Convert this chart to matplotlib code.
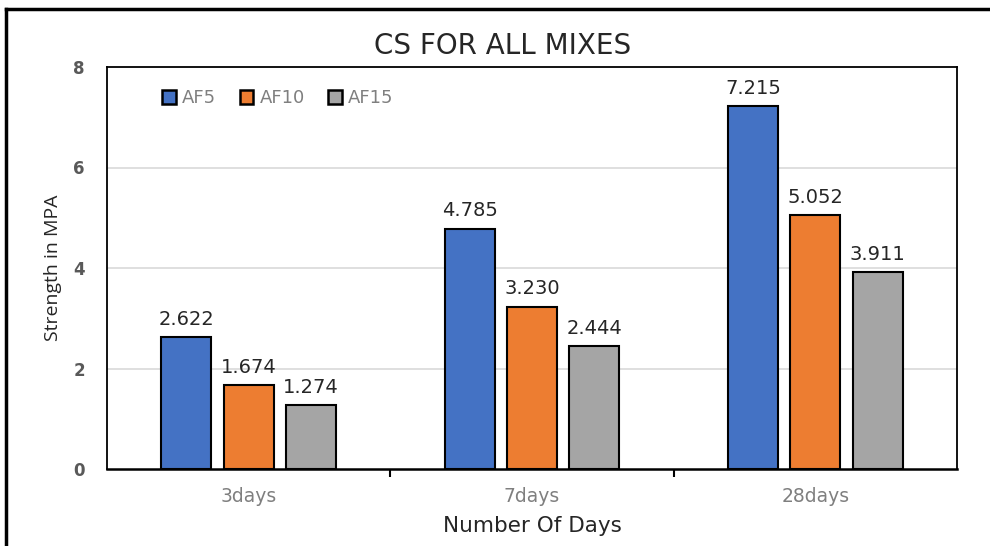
import matplotlib
matplotlib.use("Agg")
import matplotlib.pyplot as plt
import numpy as np
from matplotlib.lines import Line2D

categories = ["3days", "7days", "28days"]
series_names = ["AF5", "AF10", "AF15"]
af5 = [2.622, 4.785, 7.215]
af10 = [1.674, 3.230, 5.052]
af15 = [1.274, 2.444, 3.911]
yticks = [0, 2, 4, 6, 8]

colors = ["#4472C4", "#ED7D31", "#A5A5A5"]

fig = plt.figure(figsize=(9.9, 5.46), dpi=100)
ax = fig.add_axes([107/990, 1-469/546, 850/990, 402/546])

x = np.arange(len(categories))
width = 0.176
step = 0.22
for i, (vals, name) in enumerate(zip([af5, af10, af15], series_names)):
    pos = x + (i-1)*step
    ax.bar(pos, vals, width, color=colors[i], edgecolor="black", linewidth=1.5,
           label=name, zorder=3)
    for p, v in zip(pos, vals):
        ax.annotate(f"{v:.3f}", (p, v), xytext=(0, 6), textcoords="offset points",
                    ha="center", va="bottom", fontsize=14, color="#262626",
                    family="DejaVu Sans")

ax.set_xlim(-0.5, 2.5)
ax.set_ylim(0, 8)
ax.set_yticks(yticks)
ax.set_yticklabels([str(t) for t in yticks], fontsize=12, fontweight="bold", color="#595959",
                   family="DejaVu Sans")
ax.set_xticks(x)
ax.set_xticklabels(categories, fontsize=13.5, color="#7f7f7f", family="DejaVu Sans")
ax.tick_params(axis="x", length=0, pad=13)
ax.tick_params(axis="y", length=0, pad=16)
ax.set_xticks([0.5, 1.5], minor=True)
ax.tick_params(axis="x", which="minor", length=6, width=1.5, direction="out", color="black")
for yv in yticks[1:-1]:
    ax.axhline(yv, color="#D9D9D9", linewidth=1.2, zorder=1)
for s in ax.spines.values():
    s.set_color("black")
    s.set_linewidth(1.3)
ax.spines["bottom"].set_linewidth(1.8)

ax.set_xlabel("Number Of Days", fontsize=15.5, color="#262626", family="DejaVu Sans", labelpad=7)
ax.set_ylabel("Strength in MPA", fontsize=14, color="#262626", family="Open Sans", labelpad=8)

fig.text(503/990, 1-46/546, "CS FOR ALL MIXES", ha="center", va="center", fontsize=20,
         color="#262626", family="DejaVu Sans")

leg = ax.legend(loc="upper left", bbox_to_anchor=(0.046, 0.985), ncol=3, frameon=False,
                handlelength=0.75, handleheight=0.75, handletextpad=0.35,
                columnspacing=1.3, prop={"family": "DejaVu Sans", "size": 13})
for t in leg.get_texts():
    t.set_color("#7f7f7f")
for h in leg.legend_handles:
    h.set_linewidth(1.8)

# outer frame
fig.add_artist(Line2D([6/990, 6/990], [0, 1-9/546], transform=fig.transFigure, color="black", linewidth=2.5))
fig.add_artist(Line2D([6/990, 1], [1-9/546, 1-9/546], transform=fig.transFigure, color="black", linewidth=2.5))

fig.savefig("out.png", dpi=100)
